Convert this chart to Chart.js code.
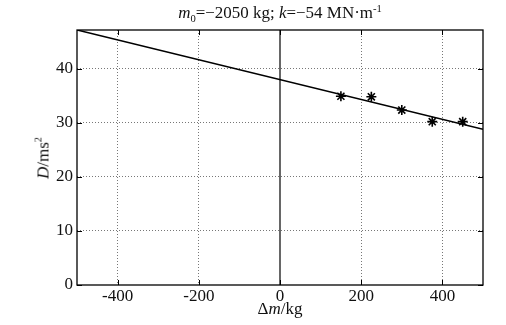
<!DOCTYPE html>
<html>
<head>
<meta charset="utf-8">
<script src="https://cdn.jsdelivr.net/npm/chart.js@4.4.0/dist/chart.umd.min.js"></script>
<style>
    html, body { margin: 0; padding: 0; background: #fff; }
    #wrap { position: relative; width: 506px; height: 325px; font-family: 'Liberation Serif', 'DejaVu Serif', serif; color: #111; }
    #chart { position: absolute; left: 0; top: 0; }
    .lbl { position: absolute; white-space: nowrap; font-size: 17px; line-height: 1; }
    #title { left: 280px; top: 5px; transform: translateX(-50%) scaleX(1.06); font-size: 16px; }
    #xlabel { left: 280px; top: 300px; transform: translateX(-50%); }
    #ylabel { left: 43px; top: 158px; transform: translate(-50%, -50%) rotate(-90deg); }
    sub, sup { font-size: 10px; line-height: 0; }
</style>
</head>
<body>
<div id="wrap">
    <canvas id="chart" width="506" height="325"></canvas>
    <div class="lbl" id="title"><i>m</i><sub>0</sub>=&minus;2050 kg; <i>k</i>=&minus;54 MN&middot;m<sup>-1</sup></div>
    <div class="lbl" id="xlabel">&Delta;<i>m</i>/kg</div>
    <div class="lbl" id="ylabel"><i>D</i>/ms<sup>2</sup></div>
</div>
<script>
// measured points (Δm in kg, D in ms²)
const massDelta = [150, 225, 300, 375, 450];
const dValues = [34.9, 34.8, 32.35, 30.2, 30.2];

// fitted line end points
const fitX = [-500, 500];
const fitY = [47.15, 28.8];

// vertical reference line at Δm = 0
const zeroX = [0, 0];
const zeroY = [0, 47.15];

const xTicks = [-400, -200, 0, 200, 400];
const yTicks = [0, 10, 20, 30, 40];

const toXY = (xs, ys) => xs.map((x, i) => ({ x, y: ys[i] }));

// matlab-style box with inward ticks
const boxPlugin = {
    id: 'box',
    afterDraw: (chart) => {
        const { ctx, chartArea: a, scales } = chart;
        ctx.save();
        ctx.strokeStyle = '#000';
        ctx.lineWidth = 1.3;
        ctx.strokeRect(a.left, a.top, a.right - a.left, a.bottom - a.top);
        ctx.lineWidth = 1;
        ctx.beginPath();
        xTicks.forEach((v) => {
            const px = Math.round(scales.x.getPixelForValue(v)) + 0.5;
            ctx.moveTo(px, a.bottom); ctx.lineTo(px, a.bottom - 5);
            ctx.moveTo(px, a.top); ctx.lineTo(px, a.top + 5);
        });
        yTicks.forEach((v) => {
            const py = Math.round(scales.y.getPixelForValue(v)) + 0.5;
            ctx.moveTo(a.left, py); ctx.lineTo(a.left + 5, py);
            ctx.moveTo(a.right, py); ctx.lineTo(a.right - 5, py);
        });
        ctx.stroke();
        ctx.restore();
    },
};

const tickFont = { family: "'Liberation Serif', serif", size: 17 };
const gridColor = (c) => c.tick && c.tick.value === 0 ? 'rgba(0,0,0,0)' : '#777';

new Chart(document.getElementById('chart'), {
    type: 'scatter',
    data: {
        datasets: [
            {
                data: toXY(fitX, fitY),
                showLine: true,
                borderColor: '#000',
                borderWidth: 1.6,
                pointRadius: 0,
            },
            {
                data: toXY(zeroX, zeroY),
                showLine: true,
                borderColor: '#000',
                borderWidth: 1.2,
                pointRadius: 0,
            },
            {
                data: toXY(massDelta, dValues),
                showLine: false,
                pointStyle: 'star',
                pointRadius: 5,
                borderColor: '#000',
                borderWidth: 1.6,
                backgroundColor: '#000',
            },
        ],
    },
    options: {
        responsive: false,
        animation: false,
        layout: { padding: { left: 0, right: 23, top: 30, bottom: 0 } },
        plugins: { legend: { display: false }, tooltip: { enabled: false } },
        scales: {
            x: {
                type: 'linear',
                min: -500, max: 500,
                afterBuildTicks: (s) => { s.ticks = xTicks.map((v) => ({ value: v })); },
                afterFit: (s) => { s.height = 40; },
                grid: { drawTicks: false, color: gridColor, lineWidth: 1 },
                border: { display: false, dash: [1, 2] },
                ticks: { color: '#111', font: tickFont, padding: 1, maxRotation: 0 },
            },
            y: {
                min: 0, max: 47.15,
                afterBuildTicks: (s) => { s.ticks = yTicks.map((v) => ({ value: v })); },
                afterFit: (s) => { s.width = 77; },
                grid: { drawTicks: false, color: gridColor, lineWidth: 1 },
                border: { display: false, dash: [1, 2] },
                ticks: { color: '#111', font: tickFont, padding: 4 },
            },
        },
    },
    plugins: [boxPlugin],
});
</script>
</body>
</html>
